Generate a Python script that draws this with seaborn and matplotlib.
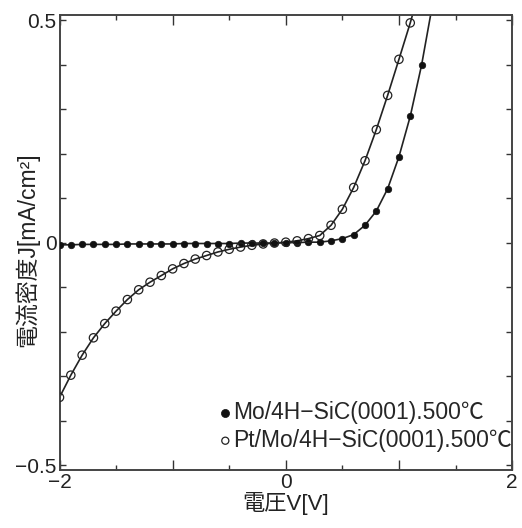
import numpy as np
import pandas as pd
import seaborn as sns
import matplotlib.pyplot as plt
from matplotlib.ticker import MultipleLocator, FixedLocator

# voltage [V] and current density [mA/cm2]
mo_v = [-2.0, -1.9, -1.8, -1.7, -1.6, -1.5, -1.4, -1.3, -1.2, -1.1, -1.0,
        -0.9, -0.8, -0.7, -0.6, -0.5, -0.4, -0.3, -0.2, -0.1, 0.0,
        0.1, 0.2, 0.3, 0.4, 0.5, 0.6, 0.7, 0.8, 0.9, 1.0, 1.1, 1.2]
mo_j = [-0.005, -0.005, -0.004, -0.004, -0.004, -0.004, -0.003, -0.003, -0.003, -0.003, -0.003,
        -0.002, -0.002, -0.002, -0.002, -0.002, -0.001, -0.001, -0.001, -0.001, 0.000,
        0.000, 0.001, 0.001, 0.004, 0.009, 0.018, 0.039, 0.071, 0.121, 0.193, 0.284, 0.399]

pt_v = [-2.0, -1.9, -1.8, -1.7, -1.6, -1.5, -1.4, -1.3, -1.2, -1.1, -1.0,
        -0.9, -0.8, -0.7, -0.6, -0.5, -0.4, -0.3, -0.2, -0.1, 0.0,
        0.1, 0.2, 0.3, 0.4, 0.5, 0.6, 0.7, 0.8, 0.9, 1.0, 1.1]
pt_j = [-0.348, -0.298, -0.253, -0.214, -0.182, -0.154, -0.128, -0.106, -0.089, -0.074, -0.059,
        -0.047, -0.037, -0.029, -0.021, -0.015, -0.010, -0.006, -0.003, -0.001, 0.001,
        0.004, 0.009, 0.016, 0.039, 0.075, 0.124, 0.184, 0.254, 0.331, 0.412, 0.494]

# fitted curves run on past the last measured point (clipped at the top)
mo_line_v = mo_v + [1.3]
mo_line_j = mo_j + [0.54]
pt_line_v = pt_v + [1.2]
pt_line_j = pt_j + [0.584]

labels = ['Mo/4H\u2212SiC(0001).500\u2103', 'Pt/Mo/4H\u2212SiC(0001).500\u2103']

sns.set_style('ticks')
plt.rcParams['font.family'] = ['Liberation Sans', 'Noto Sans CJK JP', 'DejaVu Sans']
plt.rcParams['axes.unicode_minus'] = True

fig = plt.figure(figsize=(5.22, 5.28), dpi=100)
ax = fig.add_axes([0.114, 0.110, 0.867, 0.861])

sns.lineplot(x=mo_line_v, y=mo_line_j, ax=ax, color='#222222', lw=1.2, sort=False)
sns.lineplot(x=pt_line_v, y=pt_line_j, ax=ax, color='#222222', lw=1.2, sort=False)
sns.scatterplot(x=mo_v, y=mo_j, ax=ax, marker='o', s=22, color='#111111',
                edgecolor='#111111', linewidth=0.5, label=labels[0], zorder=3)
sns.scatterplot(x=pt_v, y=pt_j, ax=ax, marker='o', s=36, facecolor='none',
                edgecolor='#222222', linewidth=0.9, label=labels[1], zorder=3)

ax.set_xlim(-2, 2)
ax.set_ylim(-0.511, 0.511)

ax.xaxis.set_major_locator(FixedLocator([-2, -1, 0, 1, 2]))
ax.xaxis.set_minor_locator(MultipleLocator(0.5))
ax.set_xticklabels(['\u22122', '', '0', '', '2'])
ax.yaxis.set_major_locator(FixedLocator(np.round(np.arange(-0.5, 0.51, 0.1), 1)))
ax.set_yticklabels(['\u22120.5', '', '', '', '', '0', '', '', '', '', '0.5'])

ax.tick_params(which='both', direction='in', top=True, right=True,
               labelsize=15, pad=2, color='#333333', labelcolor='#222222')
ax.tick_params(axis='x', which='major', length=7, width=1)
ax.tick_params(axis='x', which='minor', length=3.5, width=1)
ax.tick_params(axis='y', which='major', length=4.5, width=1)
for s in ax.spines.values():
    s.set_linewidth(1.4)
    s.set_color('#444444')

ax.set_xlabel('電圧V[V]', fontsize=16, labelpad=0, color='#222222')
ax.set_ylabel('電流密度J[mA/cm\u00b2]', fontsize=16.5, color='#222222')
ax.yaxis.set_label_coords(-0.045, 0.485)

leg = ax.legend(loc='lower right', bbox_to_anchor=(1.0, 0.04), frameon=False,
                fontsize=16.5, handlelength=0.4, handletextpad=0.15,
                borderpad=0, borderaxespad=0, labelspacing=0.2)
leg.legend_handles[0].set_sizes([34])
leg.legend_handles[1].set_sizes([26])

fig.savefig('out.png', dpi=100)
